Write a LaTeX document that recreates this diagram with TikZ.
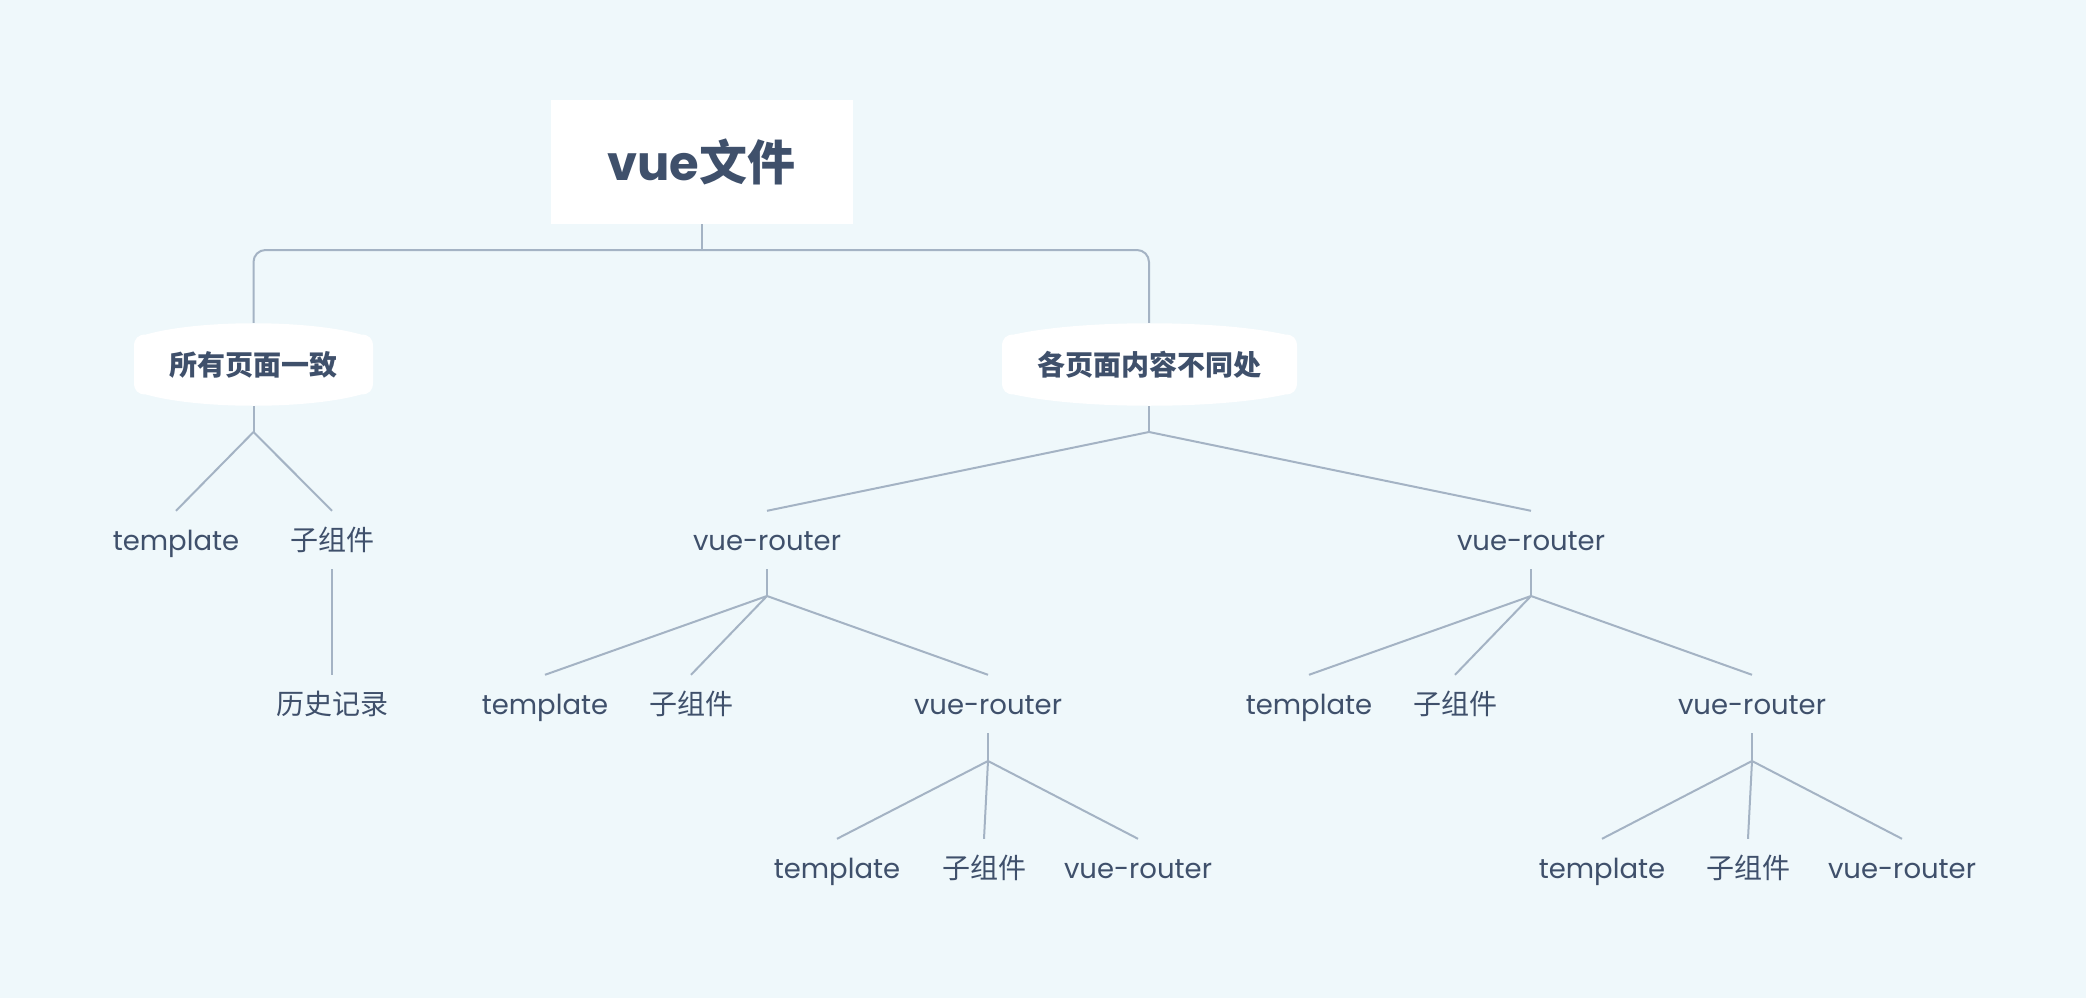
\documentclass[tikz,border=0pt]{standalone}
\usepackage{fontspec}
\setmainfont{Poppins}
\newfontfamily\cjk{Noto Sans CJK SC}
\definecolor{bgc}{HTML}{EFF8FB}
\definecolor{linec}{HTML}{A4B3C4}
\definecolor{textc}{HTML}{3F506B}
\newcommand\mmcap[3]{%
\fill[white] ({#1-#3},{#2-18}) -- ({#1-#3},{#2+18})
 .. controls ({#1-#3},{#2+26}) and ({#1-#3+4},{#2+30}) .. ({#1-#3+12},{#2+30})
 .. controls ({#1-#3/2+6},{#2+45}) and ({#1+#3/2-6},{#2+45}) .. ({#1+#3-12},{#2+30})
 .. controls ({#1+#3-4},{#2+30}) and ({#1+#3},{#2+26}) .. ({#1+#3},{#2+18})
 -- ({#1+#3},{#2-18})
 .. controls ({#1+#3},{#2-26}) and ({#1+#3-4},{#2-30}) .. ({#1+#3-12},{#2-30})
 .. controls ({#1+#3/2-6},{#2-45}) and ({#1-#3/2+6},{#2-45}) .. ({#1-#3+12},{#2-30})
 .. controls ({#1-#3+4},{#2-30}) and ({#1-#3},{#2-26}) .. cycle;}
\begin{document}
\begin{tikzpicture}[x=1pt,y=-1pt,
  conn/.style={draw=linec, line width=2pt},
  rootbox/.style={fill=white, minimum width=302pt, minimum height=124pt, inner sep=0pt,
    text=textc, font=\fontsize{48}{56}\selectfont},
  midbox/.style={minimum height=83pt, inner sep=0pt, text=textc,
    font=\fontsize{28}{34}\selectfont\cjk\bfseries},
  leaf/.style={anchor=base, text=textc, font=\fontsize{27.5}{34}\selectfont,
    inner xsep=0pt, inner ysep=12pt, text height=27pt, text depth=7pt},
  cleaf/.style={leaf, font=\fontsize{28}{34}\selectfont\cjk}]
\fill[bgc] (0,0) rectangle (2086,998);
\useasboundingbox (0,0) rectangle (2086,998);
% root
\node[rootbox] (root) at (701.5,162) {{\bfseries vue}{\cjk\bfseries 文件}};
% second level shapes
\mmcap{253.5}{364.5}{119.5}
\mmcap{1149.5}{364.5}{147.5}
\node[midbox] (n1) at (253.5,364.5) {所有页面一致};
\node[midbox] (n2) at (1149,364.5) {各页面内容不同处};
% junctions
\coordinate (bus) at (701.5,250);
\coordinate (j1) at (253.5,432);
\coordinate (j2) at (1149,432);
\coordinate (j3) at (767,596);
\coordinate (j4) at (1531,596);
\coordinate (j5) at (988,761);
\coordinate (j6) at (1752,761);
% level 3
\node[leaf]  (t1) at (176,550) {template};
\node[cleaf] (c1) at (332,550) {子组件};
\node[leaf]  (v1) at (767,550) {vue-router};
\node[leaf]  (v2) at (1531,550) {vue-router};
% level 4
\node[cleaf] (h1) at (332,714) {历史记录};
\node[leaf]  (t2) at (545,714) {template};
\node[cleaf] (c2) at (691,714) {子组件};
\node[leaf]  (v3) at (988,714) {vue-router};
\node[leaf]  (t3) at (1309,714) {template};
\node[cleaf] (c3) at (1455,714) {子组件};
\node[leaf]  (v4) at (1752,714) {vue-router};
% level 5
\node[leaf]  (t4) at (837,878) {template};
\node[cleaf] (c4) at (984,878) {子组件};
\node[leaf]  (v5) at (1138,878) {vue-router};
\node[leaf]  (t5) at (1602,878) {template};
\node[cleaf] (c5) at (1748,878) {子组件};
\node[leaf]  (v6) at (1902,878) {vue-router};
% connectors
\draw[conn] (root.south) -- (bus);
\draw[conn, rounded corners=12pt] (n1.north) |- (bus) -| (n2.north);
\draw[conn] (n1.south) -- (j1);
\draw[conn] (j1) -- (t1.north);
\draw[conn] (j1) -- (c1.north);
\draw[conn] (c1.south) -- (h1.north);
\draw[conn] (n2.south) -- (j2);
\draw[conn] (j2) -- (v1.north);
\draw[conn] (j2) -- (v2.north);
\draw[conn] (v1.south) -- (j3);
\draw[conn] (j3) -- (t2.north);
\draw[conn] (j3) -- (c2.north);
\draw[conn] (j3) -- (v3.north);
\draw[conn] (v2.south) -- (j4);
\draw[conn] (j4) -- (t3.north);
\draw[conn] (j4) -- (c3.north);
\draw[conn] (j4) -- (v4.north);
\draw[conn] (v3.south) -- (j5);
\draw[conn] (j5) -- (t4.north);
\draw[conn] (j5) -- (c4.north);
\draw[conn] (j5) -- (v5.north);
\draw[conn] (v4.south) -- (j6);
\draw[conn] (j6) -- (t5.north);
\draw[conn] (j6) -- (c5.north);
\draw[conn] (j6) -- (v6.north);
\end{tikzpicture}
\end{document}
